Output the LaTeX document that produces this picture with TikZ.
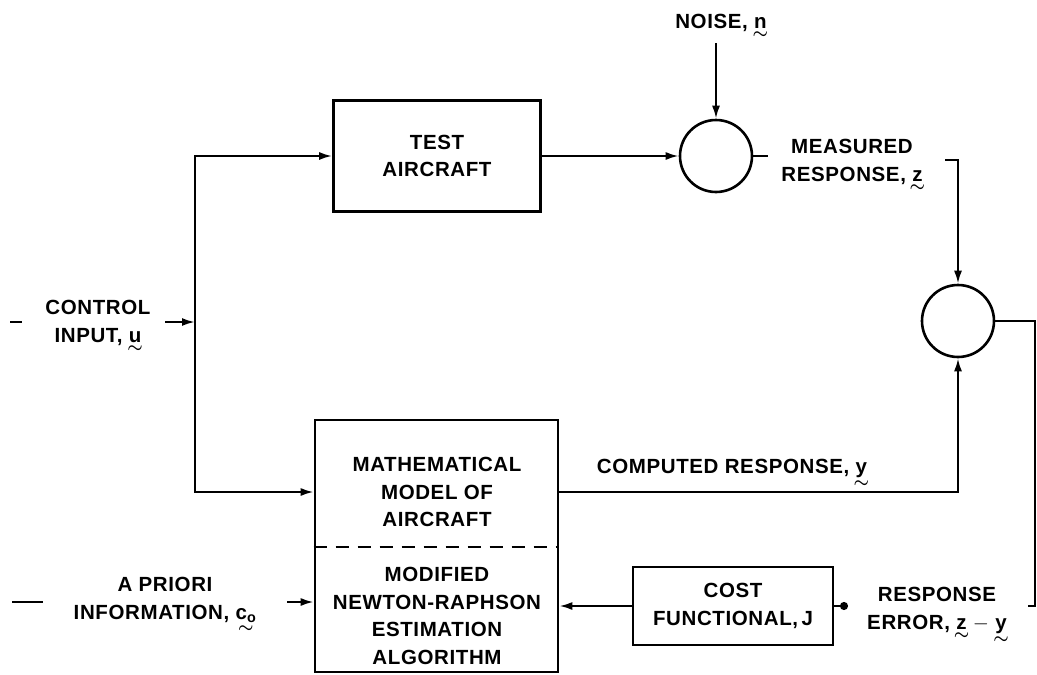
\documentclass[tikz,border=0pt]{standalone}
\usepackage{fontspec}
\setmainfont[LetterSpace=3]{Liberation Sans}
\usepackage{amsmath}
\usetikzlibrary{positioning, arrows.meta, calc}

\newcommand{\diagfont}{\fontsize{20.5}{27.5}\selectfont\bfseries}
\newcommand{\tsym}[1]{\leavevmode\setbox0\hbox{#1}\ooalign{\copy0\cr\hidewidth\smash{\raisebox{-\dimexpr\dp0+10pt\relax}{\fontsize{17}{17}\selectfont$\boldsymbol{\sim}$}}\hidewidth\cr}}

\begin{document}
\begin{tikzpicture}[
    x=1pt, y=-1pt,
    blockbox/.style={draw, line width=2.6pt, align=center, inner sep=0pt, font=\diagfont},
    sumnode/.style={draw, circle, line width=2.6pt, minimum size=72pt, inner sep=0pt},
    lbl/.style={align=center, inner sep=2pt, font=\diagfont},
    sig/.style={-{Latex[length=13pt, width=8pt]}, line width=2.2pt},
    wire/.style={line width=2.2pt},
]
    \useasboundingbox (0,0) rectangle (1037,675);

    % Blocks
    \node[blockbox, minimum width=207pt, minimum height=111pt] (test) at (437,156) {TEST\\AIRCRAFT};
    \node[sumnode] (sum1) at (716,156) {};
    \node[sumnode] (sum2) at (958,321) {};
    \node[blockbox, minimum width=243pt, minimum height=252pt] (model) at (436.5,546) {};
    \node[lbl] (mathtxt) at (437,492) {MATHEMATICAL\\MODEL OF\\AIRCRAFT};
    \node[lbl] (algtxt) at (437,616) {MODIFIED\\NEWTON-RAPHSON\\ESTIMATION\\ALGORITHM};
    \node[blockbox, minimum width=200pt, minimum height=78pt] (cost) at (733,606) {COST\\FUNCTIONAL,\,J};

    % Labels
    \node[lbl] (noise) at (721,23) {NOISE, \tsym{n}};
    \node[lbl] (meas) at (852,162) {MEASURED\\RESPONSE, \tsym{z}};
    \node[lbl] (comp) at (732,468) {COMPUTED RESPONSE, \tsym{y}};
    \node[lbl] (err) at (937,610) {RESPONSE\\ERROR, \tsym{z} $-$ \tsym{y}};
    \node[lbl] (ctrl) at (98,323) {CONTROL\\INPUT, \tsym{u}};
    \node[lbl] (prior) at (165,600) {A PRIORI\\INFORMATION, \tsym{c$_\text{o}$}};

    % Coordinates
    \coordinate (split) at (195,322);
    \coordinate (ctrlin) at (165,322);
    \coordinate (ctrlstub) at (10,322);
    \coordinate (priorin) at (287,602);
    \coordinate (priorstub) at (12,602);
    \coordinate (noisein) at (716,43);
    \coordinate (sum1out) at (768,156);
    \coordinate (measin) at (945,160);
    \coordinate (errcorner) at (1035,606);
    \coordinate (errout) at (1028,606);
    \coordinate (costdot) at (848,606);
    \coordinate (divide) at (436.5,547);

    % Dashed divider
    \draw[line width=2.2pt, dash pattern=on 13pt off 9pt] (divide -| model.west) -- (divide -| model.east);

    % Connectors
    \draw[wire] (ctrlstub) -- ++(12,0);
    \draw[sig] (ctrlin) -- (split);
    \draw[sig] (split) |- (test.west);
    \draw[sig] (split) |- (mathtxt -| model.west);
    \draw[wire] (priorstub) -- ++(31,0);
    \draw[sig] (priorin) -- (priorin -| model.west);
    \draw[sig] (test.east) -- (sum1.west);
    \draw[sig] (noisein) -- (sum1.north);
    \draw[wire] (sum1.east) -- (sum1out);
    \draw[sig] (measin) -| (sum2.north);
    \draw[sig] (mathtxt -| model.east) -| (sum2.south);
    \draw[wire] (sum2.east) -| (errcorner) -- (errout);
    \draw[wire, -{Circle[length=8pt]}] (cost.east) -- (costdot);
    \draw[sig] (cost.west) -- (cost.west -| model.east);
\end{tikzpicture}
\end{document}
